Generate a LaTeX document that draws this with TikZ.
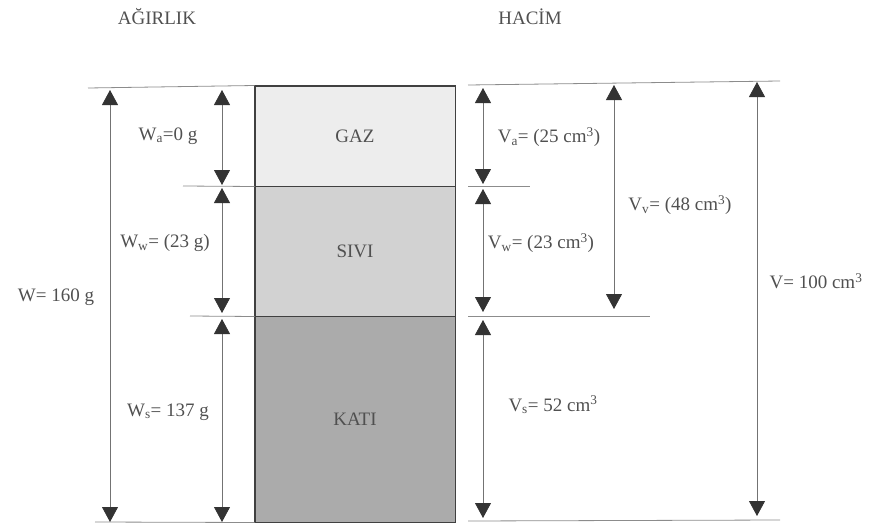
\documentclass[tikz,border=0pt]{standalone}
\usepackage{fontspec}
\setmainfont{Liberation Serif}
\usetikzlibrary{arrows.meta}

\definecolor{gazgray}{HTML}{EDEDED}
\definecolor{sivigray}{HTML}{D2D2D2}
\definecolor{katigray}{HTML}{ABABAB}
\definecolor{textgray}{HTML}{505050}

\tikzset{
  layer/.style={draw=black!75, line width=1pt, minimum width=200pt, inner sep=0pt, text=textgray},
  dimarrow/.style={{Triangle[width=16pt,length=15pt,color=black!80]}-{Triangle[width=16pt,length=15pt,color=black!80]}, draw=black!55, line width=0.8pt},
  guide/.style={draw=black!45, line width=0.8pt},
  lbl/.style={text=textgray, inner sep=1pt}
}

\begin{document}
\begin{tikzpicture}[x=1pt, y=-1pt, font=\fontsize{19}{22}\selectfont]
    \useasboundingbox (0,0) rectangle (879,530);

    % Basliklar
    \node[lbl] (agirlik) at (157,17) {AĞIRLIK};
    \node[lbl] (hacim) at (530,17) {HACİM};

    % Zemin fazlari
    \node[layer, fill=gazgray, minimum height=100pt] (gaz) at (355,136) {GAZ};
    \node[layer, fill=sivigray, minimum height=130pt] (sivi) at (355,251) {SIVI};
    \node[layer, fill=katigray, minimum height=206pt] (kati) at (355,419) {KATI};
    \draw[black!75, line width=1.4pt] (gaz.north west) rectangle (kati.south east);

    % Yardimci cizgiler - sol
    \coordinate (lTopA) at (88,88);   \coordinate (lTopB) at (gaz.north west);
    \coordinate (lMidA) at (183,186); \coordinate (lMidB) at (gaz.south west);
    \coordinate (lLowA) at (190,316); \coordinate (lLowB) at (sivi.south west);
    \coordinate (lBotA) at (95,522);  \coordinate (lBotB) at (kati.south west);
    \draw[guide] (lTopA) -- (lTopB);
    \draw[guide] (lMidA) -- (lMidB);
    \draw[guide] (lLowA) -- (lLowB);
    \draw[guide] (lBotA) -- (lBotB);

    % Yardimci cizgiler - sag
    \coordinate (rTopA) at (468,85);   \coordinate (rTopB) at (780,81);
    \coordinate (rMidA) at (468,186);  \coordinate (rMidB) at (530,186);
    \coordinate (rLowA) at (468,316);  \coordinate (rLowB) at (650,316);
    \coordinate (rBotA) at (468,521);  \coordinate (rBotB) at (780,520);
    \draw[guide] (rTopA) -- (rTopB);
    \draw[guide] (rMidA) -- (rMidB);
    \draw[guide] (rLowA) -- (rLowB);
    \draw[guide] (rBotA) -- (rBotB);

    % Agirlik oklari
    \coordinate (w1) at (110,90);  \coordinate (w2) at (110,522);
    \coordinate (wa1) at (222,90); \coordinate (wa2) at (222,185);
    \coordinate (ww1) at (222,188); \coordinate (ww2) at (222,313);
    \coordinate (ws1) at (222,319); \coordinate (ws2) at (222,522);
    \draw[dimarrow] (w1) -- (w2);
    \draw[dimarrow] (wa1) -- (wa2);
    \draw[dimarrow] (ww1) -- (ww2);
    \draw[dimarrow] (ws1) -- (ws2);

    % Hacim oklari
    \coordinate (va1) at (483,88);  \coordinate (va2) at (483,184);
    \coordinate (vw1) at (483,189); \coordinate (vw2) at (483,312);
    \coordinate (vs1) at (483,320); \coordinate (vs2) at (483,518);
    \coordinate (vv1) at (614,85);  \coordinate (vv2) at (614,309);
    \coordinate (v1) at (757,82);   \coordinate (v2) at (757,516);
    \draw[dimarrow] (va1) -- (va2);
    \draw[dimarrow] (vw1) -- (vw2);
    \draw[dimarrow] (vs1) -- (vs2);
    \draw[dimarrow] (vv1) -- (vv2);
    \draw[dimarrow] (v1) -- (v2);

    % Etiketler
    \node[lbl] (wlbl) at (56,297) {W= 160 g};
    \node[lbl] (walbl) at (168,136) {W\textsubscript{a}=0 g};
    \node[lbl] (wwlbl) at (165,243) {W\textsubscript{w}= (23 g)};
    \node[lbl] (wslbl) at (168,412) {W\textsubscript{s}= 137 g};
    \node[lbl] (valbl) at (549,137) {V\textsubscript{a}= (25 cm\textsuperscript{3})};
    \node[lbl] (vwlbl) at (541,243) {V\textsubscript{w}= (23 cm\textsuperscript{3})};
    \node[lbl] (vvlbl) at (680,205) {V\textsubscript{v}= (48 cm\textsuperscript{3})};
    \node[lbl] (vlbl) at (816,281) {V= 100 cm\textsuperscript{3}};
    \node[lbl] (vslbl) at (553,405) {V\textsubscript{s}= 52 cm\textsuperscript{3}};

  \end{tikzpicture}
\end{document}
